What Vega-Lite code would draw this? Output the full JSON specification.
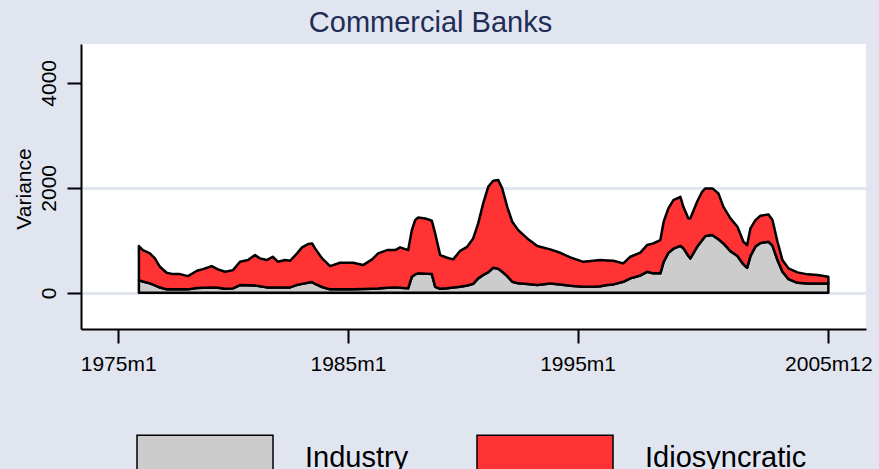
{
  "$schema": "https://vega.github.io/schema/vega-lite/v6.json",
  "autosize": "none",
  "width": 785,
  "height": 285,
  "padding": {"left": 81, "top": 44, "right": 13, "bottom": 140},
  "background": "#E1E5F0",
  "title": {"text": "Commercial Banks", "fontSize": 29, "font": "Liberation Sans", "fontWeight": "normal", "color": "#1F2D55", "anchor": "middle", "frame": "group", "dx": -43, "dy": 28, "offset": 11, "baseline": "alphabetic"},
  "data": {"values": [
    {"date": 1975.902, "Industry": 242, "Idiosyncratic": 648},
    {"date": 1976.076, "Industry": 215, "Idiosyncratic": 598},
    {"date": 1976.381, "Industry": 179, "Idiosyncratic": 571},
    {"date": 1976.599, "Industry": 140, "Idiosyncratic": 515},
    {"date": 1976.817, "Industry": 100, "Idiosyncratic": 395},
    {"date": 1977.109, "Industry": 65, "Idiosyncratic": 316},
    {"date": 1977.383, "Industry": 65, "Idiosyncratic": 291},
    {"date": 1977.688, "Industry": 65, "Idiosyncratic": 291},
    {"date": 1978.037, "Industry": 65, "Idiosyncratic": 253},
    {"date": 1978.429, "Industry": 90, "Idiosyncratic": 329},
    {"date": 1978.691, "Industry": 97, "Idiosyncratic": 354},
    {"date": 1979.070, "Industry": 103, "Idiosyncratic": 406},
    {"date": 1979.344, "Industry": 95, "Idiosyncratic": 350},
    {"date": 1979.649, "Industry": 76, "Idiosyncratic": 324},
    {"date": 1979.998, "Industry": 84, "Idiosyncratic": 348},
    {"date": 1980.303, "Industry": 147, "Idiosyncratic": 443},
    {"date": 1980.651, "Industry": 145, "Idiosyncratic": 478},
    {"date": 1980.956, "Industry": 141, "Idiosyncratic": 577},
    {"date": 1981.174, "Industry": 125, "Idiosyncratic": 530},
    {"date": 1981.466, "Industry": 103, "Idiosyncratic": 520},
    {"date": 1981.728, "Industry": 103, "Idiosyncratic": 583},
    {"date": 1981.959, "Industry": 103, "Idiosyncratic": 487},
    {"date": 1982.264, "Industry": 103, "Idiosyncratic": 520},
    {"date": 1982.481, "Industry": 103, "Idiosyncratic": 507},
    {"date": 1982.786, "Industry": 150, "Idiosyncratic": 600},
    {"date": 1983.004, "Industry": 170, "Idiosyncratic": 695},
    {"date": 1983.266, "Industry": 190, "Idiosyncratic": 738},
    {"date": 1983.440, "Industry": 204, "Idiosyncratic": 737},
    {"date": 1983.571, "Industry": 170, "Idiosyncratic": 676},
    {"date": 1983.876, "Industry": 110, "Idiosyncratic": 545},
    {"date": 1984.224, "Industry": 65, "Idiosyncratic": 444},
    {"date": 1984.660, "Industry": 65, "Idiosyncratic": 507},
    {"date": 1985.227, "Industry": 68, "Idiosyncratic": 504},
    {"date": 1985.662, "Industry": 72, "Idiosyncratic": 456},
    {"date": 1986.054, "Industry": 76, "Idiosyncratic": 560},
    {"date": 1986.316, "Industry": 80, "Idiosyncratic": 670},
    {"date": 1986.708, "Industry": 97, "Idiosyncratic": 716},
    {"date": 1987.057, "Industry": 103, "Idiosyncratic": 710},
    {"date": 1987.275, "Industry": 95, "Idiosyncratic": 770},
    {"date": 1987.623, "Industry": 84, "Idiosyncratic": 729},
    {"date": 1987.784, "Industry": 305, "Idiosyncratic": 889},
    {"date": 1987.928, "Industry": 350, "Idiosyncratic": 1035},
    {"date": 1988.059, "Industry": 370, "Idiosyncratic": 1066},
    {"date": 1988.364, "Industry": 365, "Idiosyncratic": 1052},
    {"date": 1988.656, "Industry": 356, "Idiosyncratic": 1016},
    {"date": 1988.800, "Industry": 114, "Idiosyncratic": 1017},
    {"date": 1989.017, "Industry": 76, "Idiosyncratic": 642},
    {"date": 1989.322, "Industry": 85, "Idiosyncratic": 582},
    {"date": 1989.584, "Industry": 100, "Idiosyncratic": 536},
    {"date": 1989.889, "Industry": 114, "Idiosyncratic": 686},
    {"date": 1990.194, "Industry": 140, "Idiosyncratic": 736},
    {"date": 1990.455, "Industry": 170, "Idiosyncratic": 866},
    {"date": 1990.673, "Industry": 274, "Idiosyncratic": 1048},
    {"date": 1990.891, "Industry": 340, "Idiosyncratic": 1363},
    {"date": 1991.109, "Industry": 390, "Idiosyncratic": 1629},
    {"date": 1991.327, "Industry": 476, "Idiosyncratic": 1658},
    {"date": 1991.545, "Industry": 457, "Idiosyncratic": 1690},
    {"date": 1991.719, "Industry": 400, "Idiosyncratic": 1589},
    {"date": 1991.937, "Industry": 318, "Idiosyncratic": 1320},
    {"date": 1992.155, "Industry": 210, "Idiosyncratic": 1143},
    {"date": 1992.416, "Industry": 180, "Idiosyncratic": 1014},
    {"date": 1992.808, "Industry": 166, "Idiosyncratic": 870},
    {"date": 1993.244, "Industry": 147, "Idiosyncratic": 743},
    {"date": 1993.810, "Industry": 179, "Idiosyncratic": 648},
    {"date": 1994.246, "Industry": 160, "Idiosyncratic": 602},
    {"date": 1994.682, "Industry": 135, "Idiosyncratic": 539},
    {"date": 1995.248, "Industry": 114, "Idiosyncratic": 476},
    {"date": 1995.684, "Industry": 114, "Idiosyncratic": 496},
    {"date": 1995.989, "Industry": 125, "Idiosyncratic": 498},
    {"date": 1996.294, "Industry": 147, "Idiosyncratic": 468},
    {"date": 1996.556, "Industry": 160, "Idiosyncratic": 450},
    {"date": 1996.991, "Industry": 210, "Idiosyncratic": 350},
    {"date": 1997.296, "Industry": 274, "Idiosyncratic": 412},
    {"date": 1997.732, "Industry": 330, "Idiosyncratic": 435},
    {"date": 1998.024, "Industry": 400, "Idiosyncratic": 509},
    {"date": 1998.298, "Industry": 370, "Idiosyncratic": 571},
    {"date": 1998.603, "Industry": 370, "Idiosyncratic": 634},
    {"date": 1998.747, "Industry": 590, "Idiosyncratic": 763},
    {"date": 1998.952, "Industry": 760, "Idiosyncratic": 848},
    {"date": 1999.170, "Industry": 840, "Idiosyncratic": 926},
    {"date": 1999.475, "Industry": 895, "Idiosyncratic": 934},
    {"date": 1999.606, "Industry": 850, "Idiosyncratic": 788},
    {"date": 1999.824, "Industry": 700, "Idiosyncratic": 717},
    {"date": 1999.911, "Industry": 655, "Idiosyncratic": 765},
    {"date": 2000.203, "Industry": 876, "Idiosyncratic": 858},
    {"date": 2000.420, "Industry": 1000, "Idiosyncratic": 924},
    {"date": 2000.564, "Industry": 1080, "Idiosyncratic": 909},
    {"date": 2000.869, "Industry": 1099, "Idiosyncratic": 890},
    {"date": 2001.131, "Industry": 1020, "Idiosyncratic": 874},
    {"date": 2001.349, "Industry": 940, "Idiosyncratic": 698},
    {"date": 2001.654, "Industry": 794, "Idiosyncratic": 623},
    {"date": 2001.959, "Industry": 700, "Idiosyncratic": 557},
    {"date": 2002.220, "Industry": 540, "Idiosyncratic": 432},
    {"date": 2002.381, "Industry": 476, "Idiosyncratic": 433},
    {"date": 2002.525, "Industry": 700, "Idiosyncratic": 526},
    {"date": 2002.743, "Industry": 880, "Idiosyncratic": 505},
    {"date": 2002.961, "Industry": 950, "Idiosyncratic": 517},
    {"date": 2003.309, "Industry": 972, "Idiosyncratic": 522},
    {"date": 2003.484, "Industry": 900, "Idiosyncratic": 485},
    {"date": 2003.702, "Industry": 623, "Idiosyncratic": 349},
    {"date": 2003.919, "Industry": 400, "Idiosyncratic": 223},
    {"date": 2004.181, "Industry": 260, "Idiosyncratic": 205},
    {"date": 2004.573, "Industry": 190, "Idiosyncratic": 199},
    {"date": 2005.009, "Industry": 179, "Idiosyncratic": 172},
    {"date": 2005.444, "Industry": 179, "Idiosyncratic": 158},
    {"date": 2005.917, "Industry": 179, "Idiosyncratic": 126}
  ]},
  "transform": [{"fold": ["Industry", "Idiosyncratic"], "as": ["component", "variance"]}],
  "mark": {"type": "area", "stroke": "black", "strokeWidth": 2.5, "strokeJoin": "round", "opacity": 1, "fillOpacity": 1},
  "encoding": {
    "x": {"field": "date", "type": "quantitative",
      "scale": {"domain": [1973.381, 2007.556], "nice": false, "zero": false},
      "axis": {"values": [1975, 1985, 1995, 2005.917], "title": null, "grid": false,
        "labelExpr": "datum.value == 1975 ? '1975m1' : datum.value == 1985 ? '1985m1' : datum.value == 1995 ? '1995m1' : '2005m12'",
        "domainColor": "black", "domainWidth": 2, "tickColor": "black", "tickWidth": 2, "tickSize": 14,
        "labelFont": "Liberation Sans", "labelFontSize": 21, "labelColor": "black", "labelPadding": 10, "labelFlush": false, "labelOverlap": false}},
    "y": {"field": "variance", "type": "quantitative", "stack": "zero",
      "scale": {"domain": [-690, 4740], "nice": false, "zero": false},
      "axis": {"values": [0, 2000, 4000], "format": "d", "title": "Variance", "grid": true, "gridColor": "#E1E5F0", "gridWidth": 3,
        "gridOpacity": {"condition": {"test": "datum.value == 4000", "value": 0}, "value": 1},
        "domainColor": "black", "domainWidth": 2, "tickColor": "black", "tickWidth": 2, "tickSize": 14,
        "labelFont": "Liberation Sans", "labelFontSize": 21, "labelColor": "black", "labelAngle": 270, "labelAlign": "center", "labelBaseline": "alphabetic", "labelPadding": 12, "labelFlush": false, "labelOverlap": false,
        "titleFont": "Liberation Sans", "titleFontSize": 21, "titleFontWeight": "normal", "titleColor": "black", "titleAngle": 270, "titleAlign": "center", "titleBaseline": "alphabetic", "titleX": -51, "titleY": 144.5}},
    "color": {"field": "component", "type": "nominal",
      "scale": {"domain": ["Industry", "Idiosyncratic"], "range": ["#CCCCCC", "#FF3333"]},
      "legend": {"orient": "none", "legendX": 55, "legendY": 344.5, "direction": "horizontal", "title": null,
        "symbolType": "M-1,-0.33H1V0.33H-1Z", "symbolSize": 18496, "symbolStrokeColor": "black", "symbolStrokeWidth": 1.5, "symbolOpacity": 1,
        "labelFont": "Liberation Sans", "labelFontSize": 29, "labelColor": "black", "labelOffset": 31, "columnPadding": 65, "labelLimit": 400, "padding": 0}},
    "order": {"field": "component", "sort": "descending"}
  },
  "config": {"view": {"fill": "white", "stroke": null}}
}
